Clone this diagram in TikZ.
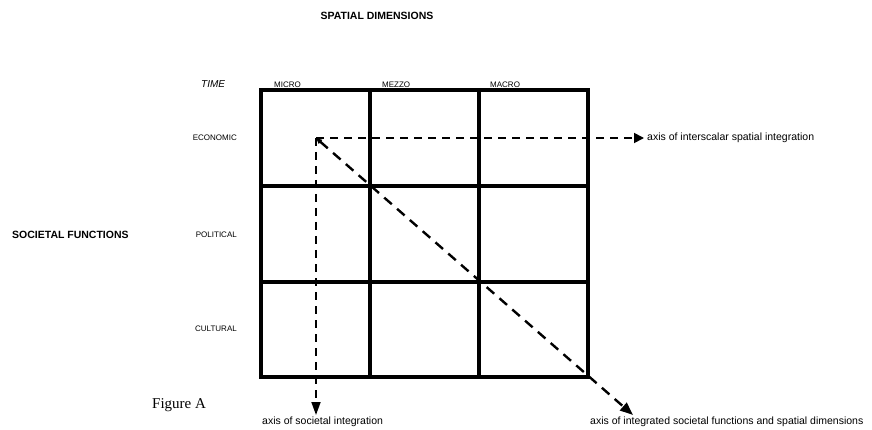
\documentclass[tikz,border=0pt]{standalone}
\usepackage{fontspec}
\setmainfont{Liberation Sans}
\newfontfamily\serifA{Liberation Serif}
\usetikzlibrary{arrows.meta}
\begin{document}
\begin{tikzpicture}[x=1pt,y=-1pt,
  gridline/.style={line width=3.2pt,line cap=rect},
  smalllbl/.style={inner sep=0pt,font=\fontsize{8}{9.6}\selectfont},
  biglbl/.style={inner sep=0pt,font=\fontsize{10.5}{12}\selectfont\bfseries},
  axislbl/.style={inner sep=0pt,font=\fontsize{10.5}{12}\selectfont},
  axisline/.style={line width=1.8pt,dash pattern=on 8pt off 6pt},
  diagline/.style={line width=2.4pt,dash pattern=on 10pt off 7pt}]
\useasboundingbox (0,0) rectangle (872,430);
% grid
\draw[gridline] (261,90) rectangle (588,377);
\foreach \x in {370,479} \draw[gridline] (\x,90) -- (\x,377);
\foreach \y in {186,282} \draw[gridline] (261,\y) -- (588,\y);
% labels
\node[biglbl] (sd) at (377,16) {SPATIAL DIMENSIONS};
\node[smalllbl,anchor=base west,font=\fontsize{10}{12}\selectfont\itshape] (time) at (201,88) {TIME};
\node[smalllbl,anchor=base west] (micro) at (274,88) {MICRO};
\node[smalllbl,anchor=base west] (mezzo) at (382,88) {MEZZO};
\node[smalllbl,anchor=base west] (macro) at (490,88) {MACRO};
\node[smalllbl,anchor=east] (eco) at (237,138) {ECONOMIC};
\node[smalllbl,anchor=east] (pol) at (237,235) {POLITICAL};
\node[smalllbl,anchor=east] (cul) at (237,329) {CULTURAL};
\node[biglbl,anchor=west] (sf) at (12,235) {SOCIETAL FUNCTIONS};
\node[axislbl,anchor=west] (ax1) at (647,138) {axis of interscalar spatial integration};
\node[axislbl,anchor=west] (ax2) at (262,422) {axis of societal integration};
\node[axislbl,anchor=west] (ax3) at (590,422) {axis of integrated societal functions and spatial dimensions};
\node[inner sep=0pt,anchor=west,font=\serifA\fontsize{15}{18}\selectfont] (fig) at (152,405) {Figure A};
% axes
\coordinate (o) at (316,138);
\coordinate (hend) at (644,138);
\coordinate (vend) at (316,415);
\coordinate (dend) at (633,415);
\draw[axisline,-{Triangle[length=10pt,width=10pt]}] (o) -- (hend);
\draw[axisline,-{Triangle[length=13pt,width=9pt]}] (o) -- (vend);
\draw[diagline,{Triangle[length=6pt,width=5pt]}-{Triangle[length=13pt,width=10pt]}] (o) -- (dend);
\end{tikzpicture}
\end{document}
